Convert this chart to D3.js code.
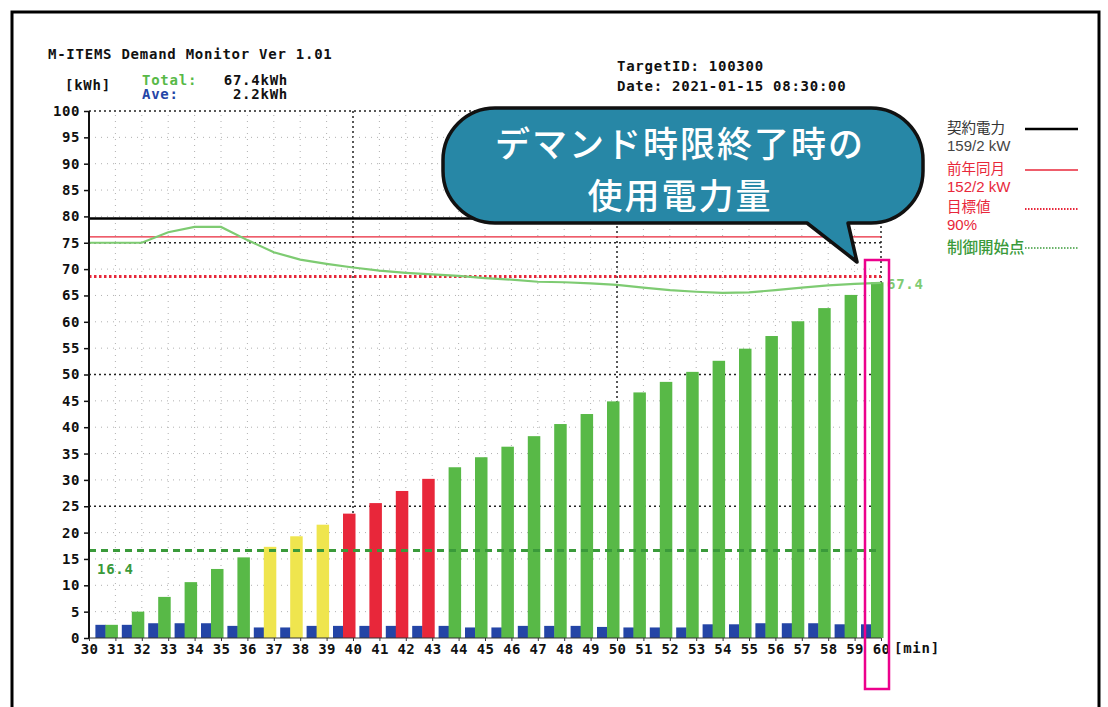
<!DOCTYPE html>
<html>
<head>
<meta charset="utf-8">
<script src="https://cdn.jsdelivr.net/npm/d3@7"></script>
<style>
  html, body { margin: 0; padding: 0; background: #fff; }
  svg { display: block; }
</style>
</head>
<body>
<div id="chart"></div>
<script>
(function () {
  'use strict';

  // --- Data ---
  const minutes = [31, 32, 33, 34, 35, 36, 37, 38, 39, 40, 41, 42, 43, 44, 45,
    46, 47, 48, 49, 50, 51, 52, 53, 54, 55, 56, 57, 58, 59, 60];
  // cumulative usage (kWh)
  const totalValues = [2.5, 5.0, 7.8, 10.6, 13.1, 15.3, 17.3, 19.3, 21.5, 23.6, 25.6, 27.9, 30.2, 32.4, 34.3,
    36.3, 38.3, 40.6, 42.5, 44.9, 46.6, 48.6, 50.5, 52.6, 54.9, 57.3, 60.1, 62.6, 65.1, 67.5];
  // per-minute usage (kWh)
  const aveValues = [2.5, 2.5, 2.8, 2.8, 2.8, 2.3, 2.0, 2.0, 2.3, 2.3, 2.3, 2.3, 2.3, 2.3, 2.0,
    2.0, 2.3, 2.3, 2.3, 2.1, 2.0, 2.0, 2.0, 2.6, 2.6, 2.8, 2.8, 2.8, 2.6, 2.6];
  // bar status: g = normal, y = warning, r = alarm
  const barStatus = ['g', 'g', 'g', 'g', 'g', 'g', 'y', 'y', 'y', 'r', 'r', 'r', 'r', 'g', 'g',
    'g', 'g', 'g', 'g', 'g', 'g', 'g', 'g', 'g', 'g', 'g', 'g', 'g', 'g', 'g'];
  // predicted end-of-period demand
  const predMinutes = [30, 31, 32, 33, 34, 35, 36, 37, 38, 39, 40, 41, 42, 43, 44, 45,
    46, 47, 48, 49, 50, 51, 52, 53, 54, 55, 56, 57, 58, 59, 60];
  const predValues = [75, 75, 75, 77, 78, 78, 75.5, 73.2, 71.8, 71.0, 70.3, 69.7, 69.3, 69.0, 68.7, 68.3,
    68.0, 67.6, 67.5, 67.3, 67.0, 66.5, 66.0, 65.7, 65.5, 65.6, 66.0, 66.5, 66.9, 67.2, 67.4];

  const contractLevel = 79.6;   // 契約電力
  const lastYearLevel = 76.1;   // 前年同月
  const targetLevel = 68.6;     // 目標値 90%
  const controlLevel = 16.6;    // 制御開始点

  const calloutLines = ['デマンド時限終了時の', '使用電力量'];

  const yTicks = d3.range(0, 101, 5);
  const xTicks = d3.range(30, 61, 1);

  const COLORS = {
    green: '#58b947',
    yellow: '#efe54e',
    red: '#e8273a',
    blue: '#2445a6',
    pred: '#7ecb72',
    ctrl: '#3a9a3a',
    grid: '#b0b0b0',
    gridDark: '#222',
    bubble: '#2787a6',
    pink: '#ec008c',
    text: '#111',
  };
  const statusColor = { g: COLORS.green, y: COLORS.yellow, r: COLORS.red };
  const MONO = '"DejaVu Sans Mono", "Liberation Mono", monospace';
  const CJK = '"Noto Sans CJK JP", "Noto Sans", sans-serif';
  const SANS = '"Liberation Sans", Arial, sans-serif';

  const W = 1108, H = 707;
  const svg = d3.select('#chart').append('svg')
    .attr('width', W).attr('height', H);

  const x = d3.scaleLinear().domain([30, 60]).range([89, 881]);
  const y = d3.scaleLinear().domain([0, 100]).range([638, 111]);

  // Outer frame
  svg.append('rect')
    .attr('x', 12).attr('y', 12).attr('width', 1087).attr('height', 740)
    .attr('fill', 'none').attr('stroke', '#000').attr('stroke-width', 3);

  // --- Header texts ---
  function mono(tx, ty, str, color, anchor) {
    return svg.append('text')
      .attr('x', tx).attr('y', ty)
      .attr('text-anchor', anchor || 'start')
      .attr('font-family', MONO)
      .attr('font-weight', 700)
      .attr('font-size', '14px')
      .attr('letter-spacing', '0.75px')
      .attr('fill', color || COLORS.text)
      .text(str);
  }
  mono(48, 59, 'M-ITEMS Demand Monitor Ver 1.01');
  mono(65, 90, '[kWh]');
  mono(142, 85, 'Total:', COLORS.green);
  mono(142, 99, 'Ave:', COLORS.blue);
  mono(288, 85, '67.4kWh', COLORS.text, 'end');
  mono(288, 99, '2.2kWh', COLORS.text, 'end');
  mono(617, 71, 'TargetID: 100300');
  mono(617, 91, 'Date: 2021-01-15 08:30:00');

  const g = svg.append('g');

  // --- Grid ---
  g.selectAll('.vgrid')
    .data(xTicks.filter(d => d > 30))
    .enter().append('line')
    .attr('x1', d => x(d)).attr('x2', d => x(d))
    .attr('y1', y(0)).attr('y2', y(100))
    .attr('stroke', d => d % 10 === 0 ? COLORS.gridDark : COLORS.grid)
    .attr('stroke-width', d => d % 10 === 0 ? 1.5 : 1)
    .attr('stroke-dasharray', d => d % 10 === 0 ? '2,3' : '1,5');

  g.selectAll('.hgrid')
    .data(yTicks.filter(d => d > 0))
    .enter().append('line')
    .attr('x1', x(30)).attr('x2', x(60))
    .attr('y1', d => y(d)).attr('y2', d => y(d))
    .attr('stroke', d => d % 25 === 0 ? COLORS.gridDark : COLORS.grid)
    .attr('stroke-width', d => d % 25 === 0 ? 1.5 : 1)
    .attr('stroke-dasharray', d => d % 25 === 0 ? '2,3' : '1,5');

  // --- Reference lines ---
  g.append('line')
    .attr('x1', x(30)).attr('x2', x(60))
    .attr('y1', y(contractLevel)).attr('y2', y(contractLevel))
    .attr('stroke', '#000').attr('stroke-width', 2.5);
  g.append('line')
    .attr('x1', x(30)).attr('x2', x(60))
    .attr('y1', y(lastYearLevel)).attr('y2', y(lastYearLevel))
    .attr('stroke', COLORS.red).attr('stroke-width', 1.3);
  g.append('line')
    .attr('x1', x(30)).attr('x2', x(60))
    .attr('y1', y(targetLevel)).attr('y2', y(targetLevel))
    .attr('stroke', COLORS.red).attr('stroke-width', 3)
    .attr('stroke-dasharray', '2.5,2.5');

  // --- Bars ---
  const bars = minutes.map((m, i) => ({ m, total: totalValues[i], ave: aveValues[i], s: barStatus[i] }));

  g.selectAll('.ave')
    .data(bars)
    .enter().append('rect')
    .attr('x', d => x(d.m) - 20)
    .attr('width', 10.5)
    .attr('y', d => y(d.ave))
    .attr('height', d => y(0) - y(d.ave))
    .attr('fill', COLORS.blue);

  g.selectAll('.total')
    .data(bars)
    .enter().append('rect')
    .attr('x', d => x(d.m) - 10)
    .attr('width', 12.5)
    .attr('y', d => y(d.total))
    .attr('height', d => y(0) - y(d.total))
    .attr('fill', d => statusColor[d.s]);

  // Control start line (on top of bars)
  g.append('line')
    .attr('x1', x(30)).attr('x2', x(60))
    .attr('y1', y(controlLevel)).attr('y2', y(controlLevel))
    .attr('stroke', COLORS.ctrl).attr('stroke-width', 3)
    .attr('stroke-dasharray', '7,5');

  // Prediction line
  const line = d3.line()
    .x((d, i) => x(predMinutes[i]))
    .y(d => y(d));
  g.append('path')
    .datum(predValues)
    .attr('fill', 'none')
    .attr('stroke', COLORS.pred)
    .attr('stroke-width', 2.2)
    .attr('d', line);

  // --- Axes ---
  const yAxis = g.append('g')
    .attr('transform', `translate(${x(30)},0)`)
    .call(d3.axisLeft(y).tickValues(yTicks).tickSize(5).tickPadding(4).tickFormat(d3.format('d')));
  yAxis.select('.domain').attr('stroke', '#111').attr('stroke-width', 2)
    .attr('d', `M0,${y(0)}V${y(100)}`);
  yAxis.selectAll('.tick line').attr('stroke', '#111').attr('stroke-width', 1.5);
  yAxis.selectAll('text')
    .attr('font-family', MONO).attr('font-weight', 700)
    .attr('font-size', '14px').attr('letter-spacing', '0.6px')
    .attr('fill', COLORS.text);

  const xAxis = g.append('g')
    .attr('transform', `translate(0,${y(0)})`)
    .call(d3.axisBottom(x).tickValues(xTicks).tickSize(3).tickPadding(3).tickFormat(d3.format('d')));
  xAxis.select('.domain').attr('stroke', '#333').attr('stroke-width', 1.2)
    .attr('d', `M${x(30)},0H${x(60)}`);
  xAxis.selectAll('.tick line').attr('stroke', '#333');
  xAxis.selectAll('text')
    .attr('font-family', MONO).attr('font-weight', 700)
    .attr('font-size', '14px').attr('letter-spacing', '0.3px')
    .attr('fill', COLORS.text);
  mono(x(60) + 13, y(0) + 15, '[min]');

  // Value labels
  svg.append('text')
    .attr('x', 97).attr('y', y(controlLevel) + 23)
    .attr('font-family', MONO).attr('font-weight', 700)
    .attr('font-size', '14px').attr('letter-spacing', '0.75px')
    .attr('fill', COLORS.ctrl)
    .text('16.4');
  svg.append('text')
    .attr('x', x(60) + 6).attr('y', y(67.4) + 6)
    .attr('font-family', MONO).attr('font-weight', 700)
    .attr('font-size', '14px').attr('letter-spacing', '0.75px')
    .attr('fill', COLORS.pred)
    .text('67.4');

  // --- Legend ---
  const lg = svg.append('g');
  function legendText(tx, ty, str, color, size, family, weight) {
    lg.append('text')
      .attr('x', tx).attr('y', ty)
      .attr('font-family', family || CJK)
      .attr('font-size', (size || 15) + 'px')
      .attr('font-weight', weight || 400)
      .attr('fill', color)
      .text(str);
  }
  legendText(947, 133, '契約電力', '#333', 14.5);
  legendText(947, 151, '159/2 kW', '#444', 15, SANS);
  lg.append('line').attr('x1', 1025).attr('x2', 1078).attr('y1', 129).attr('y2', 129)
    .attr('stroke', '#000').attr('stroke-width', 2.5);

  legendText(947, 174, '前年同月', COLORS.red, 14.5);
  legendText(947, 192, '152/2 kW', COLORS.red, 15, SANS);
  lg.append('line').attr('x1', 1025).attr('x2', 1078).attr('y1', 170).attr('y2', 170)
    .attr('stroke', COLORS.red).attr('stroke-width', 1.3);

  legendText(947, 212, '目標値', COLORS.red, 14.5);
  legendText(947, 230, '90%', COLORS.red, 15, SANS);
  lg.append('line').attr('x1', 1025).attr('x2', 1078).attr('y1', 209).attr('y2', 209)
    .attr('stroke', COLORS.red).attr('stroke-width', 2)
    .attr('stroke-dasharray', '1.5,1.5');

  legendText(947, 253, '制御開始点', COLORS.ctrl, 15.5, CJK, 500);
  lg.append('line').attr('x1', 1025).attr('x2', 1078).attr('y1', 248).attr('y2', 248)
    .attr('stroke', COLORS.ctrl).attr('stroke-width', 1.5)
    .attr('stroke-dasharray', '1.5,1.5');

  // --- Highlight box around minute 60 ---
  svg.append('rect')
    .attr('x', 865).attr('y', 260).attr('width', 24).attr('height', 429)
    .attr('fill', 'none').attr('stroke', COLORS.pink).attr('stroke-width', 2.5);

  // --- Callout bubble ---
  const bx0 = 443, by0 = 108, bx1 = 923, by1 = 223, r = 52;
  const tailL = 807, tailR = 848, tipX = 857, tipY = 262;
  const p = d3.path();
  p.moveTo(bx0 + r, by0);
  p.lineTo(bx1 - r, by0);
  p.arcTo(bx1, by0, bx1, by0 + r, r);
  p.lineTo(bx1, by1 - r);
  p.arcTo(bx1, by1, bx1 - r, by1, r);
  p.lineTo(tailR, by1);
  p.lineTo(tipX, tipY);
  p.lineTo(tailL, by1);
  p.lineTo(bx0 + r, by1);
  p.arcTo(bx0, by1, bx0, by1 - r, r);
  p.lineTo(bx0, by0 + r);
  p.arcTo(bx0, by0, bx0 + r, by0, r);
  p.closePath();
  svg.append('path')
    .attr('d', p.toString())
    .attr('fill', COLORS.bubble)
    .attr('stroke', '#111')
    .attr('stroke-width', 3.5)
    .attr('stroke-linejoin', 'round');

  calloutLines.forEach((str, i) => {
    svg.append('text')
      .attr('x', 680).attr('y', 157 + i * 52)
      .attr('text-anchor', 'middle')
      .attr('font-family', CJK).attr('font-weight', 500)
      .attr('font-size', '35px')
      .attr('letter-spacing', '2px')
      .attr('fill', '#fff')
      .text(str);
  });
})();
</script>
</body>
</html>
